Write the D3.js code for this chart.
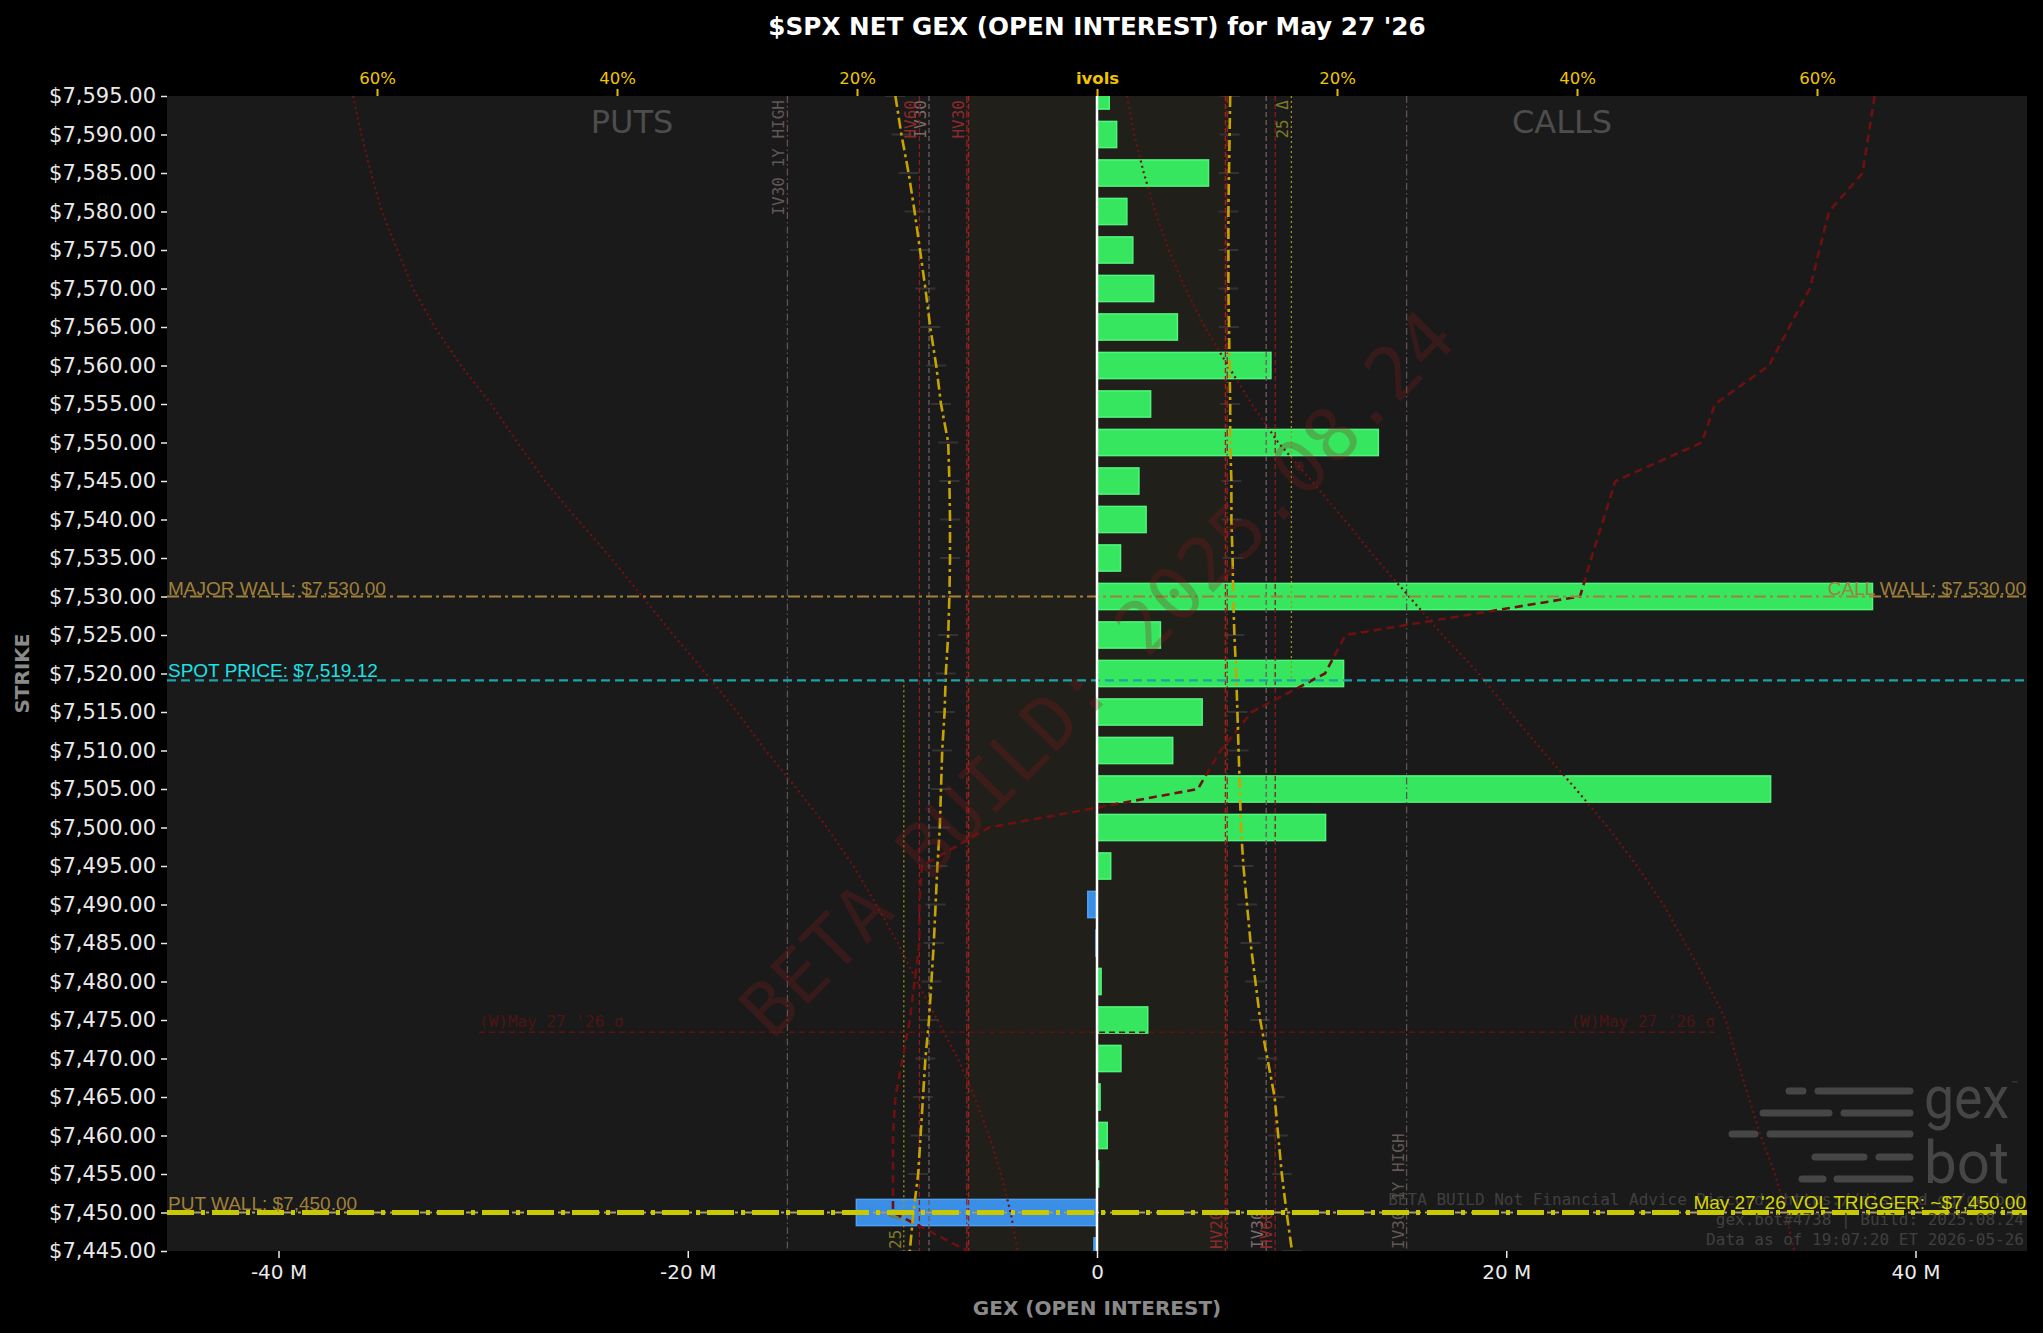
<!DOCTYPE html>
<html>
<head>
<meta charset="utf-8">
<script src="https://cdn.jsdelivr.net/npm/d3@7"></script>
<style>
  body { margin: 0; background: #000; }
</style>
</head>
<body>
<div id="chart-area"></div>
<script>
// strikes (top to bottom) and net gex per strike, in millions
const strikes = [7595, 7590, 7585, 7580, 7575, 7570, 7565, 7560, 7555, 7550, 7545, 7540, 7535, 7530, 7525, 7520,
  7515, 7510, 7505, 7500, 7495, 7490, 7485, 7480, 7475, 7470, 7465, 7460, 7455, 7450, 7445]
const netGex = [0.6, 0.96, 5.45, 1.46, 1.75, 2.77, 3.93, 8.5, 2.62, 13.75, 2.05, 2.4, 1.15, 37.9, 3.1, 12.05,
  5.14, 3.7, 32.92, 11.17, 0.67, -0.45, -0.05, 0.2, 2.48, 1.17, 0.15, 0.5, 0.08, -11.76, -0.15]

// ivol curves per strike (%), read on the top axis
const callIvol = [11.1, 11.05, 11.0, 10.95, 10.95, 10.95, 11.0, 11.05, 11.1, 11.1, 11.2, 11.2, 11.3, 11.35, 11.45, 11.6,
  11.7, 11.8, 11.9, 12.0, 12.2, 12.5, 12.8, 13.2, 13.6, 14.2, 14.8, 15.1, 15.4, 15.8, 16.25]
const putIvol = [16.8, 16.3, 15.7, 15.2, 14.75, 14.3, 13.9, 13.4, 13.0, 12.4, 12.3, 12.25, 12.25, 12.3, 12.4, 12.6,
  12.7, 12.9, 13.0, 13.1, 13.3, 13.45, 13.6, 13.8, 14.0, 14.3, 14.5, 14.7, 14.9, 15.3, 15.6]
const callSkew = [2.5, 3.1, 3.9, 4.85, 6.0, 7.35, 9.0, 10.9, 12.9, 15.1, 17.9, 20.6, 23.2, 26.0, 28.8, 31.8,
  34.4, 37.1, 39.9, 42.6, 45.0, 47.2, 49.0, 50.8, 52.4, 53.3, 54.3, 55.3, 56.5, 57.4, 58.1]
const putSkew = [62, 61.3, 60.5, 59.6, 58.3, 57, 55.2, 53, 50.5, 48.3, 46, 43.3, 40.5, 37.9, 35.3, 32.6,
  30, 27.6, 25, 22.5, 20.3, 18.4, 16.6, 15.0, 13.3, 11.6, 10.2, 9.0, 8.0, 7.2, 6.6]
// signed profile (red dashed)
const profile = [64.8, 64.3, 63.8, 61.0, 60.2, 59.4, 57.7, 56.0, 51.5, 50.4, 43.2, 42.2, 41.2, 40.25, 20.7, 19.0,
  12.9, 10.3, 8.4, -9.0, -14.6, -14.8, -14.8, -15.2, -15.6, -16.2, -16.8, -17.0, -17.0, -17.0, -10.75]

// vol levels (%)
const volNames = ["IV30 1Y HIGH", "IV30", "HV60", "HV30", "HV20"]
const volPut = [25.8, 14.0, 14.8, 10.85, 10.7]
const volCall = [25.8, 14.1, 14.85, 10.85, 10.7]
const delta25 = { put: 16.1, call: 16.2 }

// key levels
const SPOT = 7519.12
const MAJOR_WALL = 7530
const CALL_WALL = 7530
const PUT_WALL = 7450
const VOL_TRIGGER = 7450
const SIGMA_LOW = 7473.4
const SIGMA_SPAN = 30.2

const gexTicks = [-40, -20, 0, 20, 40]
const ivolTicks = [-60, -40, -20, 0, 20, 40, 60]
const XMAX = 45.45
const IVMAX = 77.5

//margens
const MARGIN = { LEFT: 167, RIGHT: 16, TOP: 96, BOTTOM: 82 }
const WIDTH = 2043 - MARGIN.LEFT - MARGIN.RIGHT
const HEIGHT = 1333 - MARGIN.TOP - MARGIN.BOTTOM
const MONO = "DejaVu Sans Mono"

const svg = d3.select("#chart-area").append("svg")
  .attr("width", 2043)
  .attr("height", 1333)
  .attr("font-family", "DejaVu Sans")

svg.append("rect").attr("width", 2043).attr("height", 1333).attr("fill", "#000")

const g = svg.append("g")
  .attr("transform", `translate(${MARGIN.LEFT}, ${MARGIN.TOP})`)

// scales
const x = d3.scaleLinear().domain([-XMAX, XMAX]).range([0, WIDTH])
const iv = d3.scaleLinear().domain([-IVMAX, IVMAX]).range([0, WIDTH])
const y = d3.scaleLinear().domain([7445, 7595]).range([HEIGHT, 0])
const barH = y(7445) - y(7448.4)

g.append("clipPath").attr("id", "plot-clip")
  .append("rect").attr("width", WIDTH).attr("height", HEIGHT)

g.append("rect")
  .attr("width", WIDTH).attr("height", HEIGHT)
  .attr("fill", "#1a1a1a")

const plot = g.append("g").attr("clip-path", "url(#plot-clip)")

// band between the HV30 levels
plot.append("rect")
  .attr("x", iv(-volPut[3]))
  .attr("y", 0)
  .attr("width", iv(volCall[3]) - iv(-volPut[3]))
  .attr("height", HEIGHT)
  .attr("fill", "#c8a400")
  .attr("opacity", 0.035)

const curve = (vals, sign) => strikes.map((s, i) => ({ s, v: sign * vals[i] }))
const line = d3.line().x(d => iv(d.v)).y(d => y(d.s))

// small markers on the ivol curves (under the bars)
;[curve(putIvol, -1), curve(callIvol, 1)].forEach(pts => {
  plot.selectAll(null)
    .data(pts)
    .enter().append("line")
    .attr("x1", d => iv(d.v) - 10).attr("x2", d => iv(d.v) + 10)
    .attr("y1", d => y(d.s)).attr("y2", d => y(d.s))
    .attr("stroke", "#333").attr("stroke-width", 2)
})

// bars
plot.selectAll("rect.bar")
  .data(strikes.map((s, i) => ({ s, v: netGex[i] })))
  .enter().append("rect")
  .attr("class", "bar")
  .attr("x", d => x(Math.min(0, d.v)))
  .attr("y", d => y(d.s) - barH / 2)
  .attr("width", d => Math.abs(x(d.v) - x(0)))
  .attr("height", barH)
  .attr("fill", d => d.v >= 0 ? "#36e65e" : "#3a8ee5")
  .attr("stroke", d => d.v >= 0 ? "#4ff57c" : "#4ea2f5")
  .attr("stroke-width", 1.5)

// vol level lines
const volStyle = {
  "IV30 1Y HIGH": { color: "#5e5252", label: "#615757", dash: "7,3,1.5,3" },
  "IV30": { color: "#6e5e5e", label: "#7a6a6a", dash: "5,3" },
  "HV60": { color: "#8a1c1c", label: "#8b2a2a", dash: "5,3" },
  "HV30": { color: "#9a2020", label: "#8b2a2a", dash: "7,3,1.5,3" },
  "HV20": { color: "#a02020", label: "#8b2a2a", dash: "5,3" }
}
volNames.forEach((name, i) => {
  const st = volStyle[name]
  ;[iv(-volPut[i]), iv(volCall[i])].forEach(px => {
    plot.append("line")
      .attr("x1", px).attr("x2", px)
      .attr("y1", 0).attr("y2", HEIGHT)
      .attr("stroke", st.color)
      .attr("stroke-width", 1.3)
      .attr("stroke-dasharray", st.dash)
  })
  if (name !== "HV20") {
    plot.append("text")
      .attr("transform", `translate(${iv(-volPut[i]) - 3}, 4) rotate(-90)`)
      .attr("text-anchor", "end")
      .attr("font-family", MONO)
      .attr("font-size", "16px")
      .attr("fill", st.label)
      .text(name)
  }
  if (name !== "HV30") {
    plot.append("text")
      .attr("transform", `translate(${iv(volCall[i]) - 3}, ${HEIGHT - 2}) rotate(-90)`)
      .attr("text-anchor", "start")
      .attr("font-family", MONO)
      .attr("font-size", "16px")
      .attr("fill", st.label)
      .text(name)
  }
})

// 25 delta lines
plot.append("line")
  .attr("x1", iv(delta25.call)).attr("x2", iv(delta25.call))
  .attr("y1", 0).attr("y2", y(SPOT))
  .attr("stroke", "#9a9a14").attr("stroke-width", 1.3).attr("stroke-dasharray", "2,3")
plot.append("line")
  .attr("x1", iv(-delta25.put)).attr("x2", iv(-delta25.put))
  .attr("y1", y(SPOT)).attr("y2", HEIGHT)
  .attr("stroke", "#9a9a14").attr("stroke-width", 1.3).attr("stroke-dasharray", "2,3")
plot.append("text")
  .attr("transform", `translate(${iv(delta25.call) - 3}, 4) rotate(-90)`)
  .attr("text-anchor", "end")
  .attr("font-family", MONO).attr("font-size", "16px")
  .attr("fill", "#7d7a2a")
  .text("25 Δ")
plot.append("text")
  .attr("transform", `translate(${iv(-delta25.put) - 3}, ${HEIGHT - 2}) rotate(-90)`)
  .attr("text-anchor", "start")
  .attr("font-family", MONO).attr("font-size", "16px")
  .attr("fill", "#7d7a2a")
  .text("25 Δ")

// curves
;[curve(putSkew, -1), curve(callSkew, 1)].forEach(pts => {
  plot.append("path")
    .attr("d", line(pts))
    .attr("fill", "none")
    .attr("stroke", "#701212")
    .attr("stroke-width", 2.2)
    .attr("stroke-dasharray", "2,3.5")
})

plot.append("path")
  .attr("d", line(curve(profile, 1)))
  .attr("fill", "none")
  .attr("stroke", "#6e1010")
  .attr("stroke-width", 2.6)
  .attr("stroke-dasharray", "8,5")

;[curve(putIvol, -1), curve(callIvol, 1)].forEach(pts => {
  plot.append("path")
    .attr("d", line(pts))
    .attr("fill", "none")
    .attr("stroke", "#c8a400")
    .attr("stroke-width", 2.6)
    .attr("stroke-dasharray", "11,4,3,4")
})

// sigma level
plot.append("line")
  .attr("x1", x(-SIGMA_SPAN)).attr("x2", x(SIGMA_SPAN))
  .attr("y1", y(SIGMA_LOW)).attr("y2", y(SIGMA_LOW))
  .attr("stroke", "#5c1212").attr("stroke-width", 1.6).attr("stroke-dasharray", "6,4")
plot.append("text")
  .attr("x", x(-SIGMA_SPAN)).attr("y", y(SIGMA_LOW) - 5)
  .attr("font-family", MONO).attr("font-size", "16px")
  .attr("fill", "#4e1515")
  .text("(W)May 27 '26 σ")
plot.append("text")
  .attr("x", x(SIGMA_SPAN)).attr("y", y(SIGMA_LOW) - 5)
  .attr("text-anchor", "end")
  .attr("font-family", MONO).attr("font-size", "16px")
  .attr("fill", "#4e1515")
  .text("(W)May 27 '26 σ")

// walls, spot, vol trigger
plot.append("line")
  .attr("x1", 0).attr("x2", WIDTH)
  .attr("y1", y(MAJOR_WALL)).attr("y2", y(MAJOR_WALL))
  .attr("stroke", "#a0803a").attr("stroke-width", 2).attr("stroke-dasharray", "12,4,3,4")
plot.append("line")
  .attr("x1", 0).attr("x2", WIDTH)
  .attr("y1", y(SPOT)).attr("y2", y(SPOT))
  .attr("stroke", "#1aa3a8").attr("stroke-width", 2.2).attr("stroke-dasharray", "9,5")
plot.append("line")
  .attr("x1", 0).attr("x2", WIDTH)
  .attr("y1", y(PUT_WALL)).attr("y2", y(PUT_WALL))
  .attr("stroke", "#a89a70").attr("stroke-width", 2).attr("stroke-dasharray", "12,4,3,4")
plot.append("line")
  .attr("x1", 0).attr("x2", WIDTH)
  .attr("y1", y(VOL_TRIGGER)).attr("y2", y(VOL_TRIGGER))
  .attr("stroke", "#c9c900").attr("stroke-width", 5).attr("stroke-dasharray", "27,7,4,7")

const levelLabel = (txt, px, py, anchor, color) => plot.append("text")
  .attr("x", px).attr("y", py)
  .attr("text-anchor", anchor)
  .attr("font-family", "Liberation Sans")
  .attr("font-size", "19px")
  .attr("fill", color)
  .text(txt)

const money = d3.format("$,.2f")
levelLabel("MAJOR WALL: " + money(MAJOR_WALL), 1, y(MAJOR_WALL) - 2, "start", "#a0803a")
levelLabel("CALL WALL: " + money(CALL_WALL), WIDTH - 1, y(CALL_WALL) - 2, "end", "#a0803a")
levelLabel("SPOT PRICE: " + money(SPOT), 1, y(SPOT) - 3, "start", "#1de2e8")
levelLabel("PUT WALL: " + money(PUT_WALL), 1, y(PUT_WALL) - 3, "start", "#a0803a")

// zero line
plot.append("line")
  .attr("x1", x(0)).attr("x2", x(0))
  .attr("y1", 0).attr("y2", HEIGHT)
  .attr("stroke", "#fff").attr("stroke-width", 2.5)

// watermark
plot.append("text")
  .attr("transform", `translate(${WIDTH / 2}, ${HEIGHT / 2}) rotate(-45.5)`)
  .attr("text-anchor", "middle")
  .attr("dominant-baseline", "central")
  .attr("font-family", MONO)
  .attr("font-size", "74px")
  .attr("fill", "#8b1a1a")
  .attr("opacity", 0.26)
  .text("BETA BUILD: 2025.08.24")

// PUTS / CALLS
;[["PUTS", -XMAX / 2], ["CALLS", XMAX / 2]].forEach(([t, v]) => {
  plot.append("text")
    .attr("x", x(v)).attr("y", 37)
    .attr("text-anchor", "middle")
    .attr("font-size", "32px")
    .attr("fill", "#4d4d4d")
    .text(t)
})

// logo
const logo = plot.append("g")
  .attr("transform", `translate(${WIDTH - 296}, ${HEIGHT - 170})`)
const logoRows = [[10, [[58, 72], [87, 179]]], [32, [[32, 98], [113, 179]]], [53, [[1, 24], [39, 179]]],
  [76, [[84, 133], [148, 179]]], [98, [[71, 92], [106, 179]]]]
logoRows.forEach(([ry, segs]) => segs.forEach(([a, b]) => {
  logo.append("line")
    .attr("x1", a).attr("x2", b).attr("y1", ry).attr("y2", ry)
    .attr("stroke", "#464646").attr("stroke-width", 7).attr("stroke-linecap", "round")
}))
logo.append("text").attr("x", 193).attr("y", 37)
  .attr("font-family", "Roboto").attr("font-size", "60px").attr("fill", "#464646")
  .attr("textLength", 85).attr("lengthAdjust", "spacingAndGlyphs").text("gex")
logo.append("text").attr("x", 193).attr("y", 102)
  .attr("font-family", "Roboto").attr("font-size", "60px").attr("fill", "#464646")
  .attr("textLength", 85).attr("lengthAdjust", "spacingAndGlyphs").text("bot")
logo.append("text").attr("x", 280).attr("y", 6)
  .attr("font-size", "8px").attr("fill", "#464646").text("™")

// footer text
;[["BETA BUILD Not Financial Advice Discord: https://discord.gg/gexbot", 46],
  ["gex.bot#4738 | Build: 2025.08.24", 26],
  ["Data as of 19:07:20 ET 2026-05-26", 6]].forEach(([t, off]) => {
  plot.append("text")
    .attr("x", WIDTH - 3).attr("y", HEIGHT - off)
    .attr("text-anchor", "end")
    .attr("font-family", MONO)
    .attr("font-size", "16px")
    .attr("fill", "#404040")
    .text(t)
})
// vol trigger label above footer
levelLabel("May 27 '26 VOL TRIGGER: ~" + money(VOL_TRIGGER), WIDTH - 1, y(VOL_TRIGGER) - 4, "end", "#d6d600")

// eixo Y - strikes
const yAxis = g.append("g")
  .call(d3.axisLeft(y).tickValues(strikes).tickFormat(money).tickSize(6).tickPadding(5))
yAxis.select(".domain").remove()
yAxis.selectAll("line").attr("stroke", "#eaeaea").attr("stroke-width", 1.5)
yAxis.selectAll("text").attr("fill", "#eaeaea").attr("font-size", "21px")
  .attr("font-family", "DejaVu Sans")

// eixo X - gex
const xAxis = g.append("g")
  .attr("transform", `translate(0, ${HEIGHT})`)
  .call(d3.axisBottom(x).tickValues(gexTicks).tickFormat(d => d === 0 ? "0" : d + " M").tickSize(7).tickPadding(7))
xAxis.select(".domain").remove()
xAxis.selectAll("line").attr("stroke", "#eaeaea").attr("stroke-width", 1.5)
xAxis.selectAll("text").attr("fill", "#eaeaea").attr("font-size", "20px")
  .attr("font-family", "DejaVu Sans")

// eixo superior - ivols
const topAxis = g.append("g")
  .call(d3.axisTop(iv).tickValues(ivolTicks).tickFormat(d => d === 0 ? "ivols" : Math.abs(d) + "%").tickSize(7).tickPadding(5))
topAxis.select(".domain").remove()
topAxis.selectAll("line").attr("stroke", "#e8b800").attr("stroke-width", 2)
topAxis.selectAll("text").attr("fill", "#f0c400").attr("font-size", "16.5px")
  .attr("font-family", "DejaVu Sans")
  .attr("font-weight", d => d === 0 ? "bold" : "normal")

// titles
svg.append("text")
  .attr("x", MARGIN.LEFT + x(0)).attr("y", 35)
  .attr("text-anchor", "middle")
  .attr("font-size", "24.7px").attr("font-weight", "bold")
  .attr("fill", "#fff")
  .text("$SPX NET GEX (OPEN INTEREST) for May 27 '26")

g.append("text")
  .attr("x", x(0)).attr("y", HEIGHT + 64)
  .attr("text-anchor", "middle")
  .attr("font-size", "20px").attr("font-weight", "bold")
  .attr("fill", "#8a8a8a")
  .text("GEX (OPEN INTEREST)")

g.append("text")
  .attr("x", -HEIGHT / 2).attr("y", -145)
  .attr("transform", "rotate(-90)")
  .attr("text-anchor", "middle")
  .attr("dominant-baseline", "central")
  .attr("font-size", "20px").attr("font-weight", "bold")
  .attr("fill", "#8a8a8a")
  .text("STRIKE")
</script>
</body>
</html>
